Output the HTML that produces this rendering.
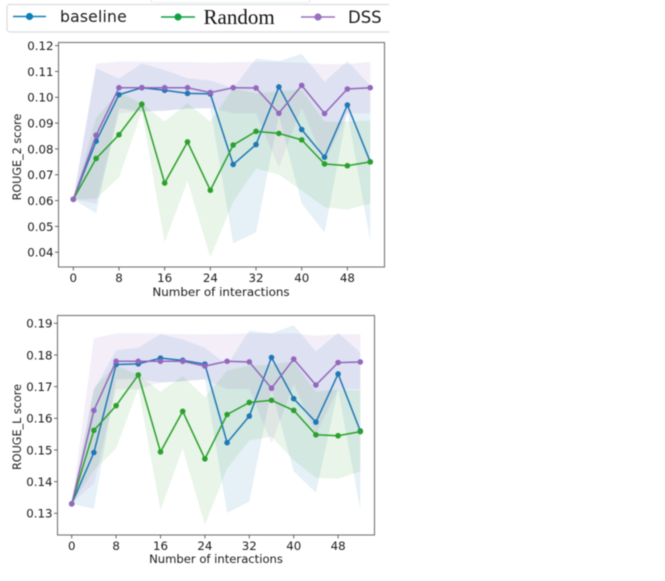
<!DOCTYPE html>
<html>
<head>
<meta charset="utf-8">
<title>ROUGE scores vs interactions</title>
<style>
html,body{margin:0;padding:0;background:#fff;}
#stage{position:relative;width:665px;height:581px;overflow:hidden;background:#fff;}
svg{position:absolute;left:0;top:0;filter:blur(0.4px);}
text{font-family:"DejaVu Sans",sans-serif;fill:#1a1a1a;}
</style>
</head>
<body>
<div id="stage">
<svg id="plot" width="665" height="581" viewBox="0 0 665 581" xmlns="http://www.w3.org/2000/svg">
  <g>
    <rect x="151" y="0" width="1" height="2" fill="#bfe3f2"/>
    <rect x="309" y="0" width="1" height="2" fill="#bfe3f2"/>
    <rect x="153" y="2" width="155" height="1" fill="#e6f3f8"/>
    <path d="M389 4.5H10a3 3 0 0 0-3 3V29a3 3 0 0 0 3 3H389" fill="#fff" stroke="#dcdcdc" stroke-width="1.2"/>
    <g>
      <line x1="13" y1="16.5" x2="46" y2="16.5" stroke="#0f7fb8" stroke-width="1.6"/>
      <circle cx="29.5" cy="16.5" r="3.6" fill="#0f7fb8"/>
      <text x="60" y="22" font-size="15.6" style="letter-spacing:.2px">baseline</text>
    </g>
    <g>
      <line x1="161" y1="17" x2="195" y2="17" stroke="#0fa044" stroke-width="1.6"/>
      <circle cx="178" cy="17" r="3.6" fill="#0fa044"/>
      <text x="203.5" y="24" font-size="21" style="font-family:'Liberation Serif',serif;fill:#111">Random</text>
    </g>
    <g>
      <line x1="301" y1="17" x2="335" y2="17" stroke="#9a6fbf" stroke-width="1.6"/>
      <circle cx="318" cy="17" r="3.6" fill="#9a6fbf"/>
      <text x="348" y="23" font-size="16.5">DSS</text>
    </g>
  </g>
</svg>
</div>
<script>
const interactions = [0,4,8,12,16,20,24,28,32,36,40,44,48,52];
const xTickLabels = [0,8,16,24,32,40,48];

const rouge2Ticks = [0.04,0.05,0.06,0.07,0.08,0.09,0.10,0.11,0.12];
const rouge2BaselineMean = [.0605,.083,.101,.1037,.1027,.1015,.1013,.074,.0817,.104,.0875,.0768,.097,.075];
const rouge2BaselineUpper = [.0605,.1112,.1072,.113,.1105,.1073,.1065,.1035,.115,.114,.1168,.106,.114,.1045];
const rouge2BaselineLower = [.0605,.0551,.0957,.0945,.0948,.0957,.0958,.0435,.0477,.0929,.0588,.0476,.0945,.0445];
const rouge2RandomMean = [.0605,.0763,.0855,.0973,.0668,.0827,.064,.0815,.0868,.086,.0835,.0742,.0735,.075];
const rouge2RandomUpper = [.0605,.092,.102,.0975,.0906,.0977,.0905,.1035,.1015,.1023,.103,.0905,.0905,.091];
const rouge2RandomLower = [.0605,.0607,.069,.0945,.0438,.0677,.038,.0596,.0724,.0701,.0639,.0574,.0565,.0589];
const rouge2DssMean = [.0605,.0853,.1037,.1037,.1037,.1037,.1018,.1037,.1036,.0938,.1046,.0937,.1032,.1037];
const rouge2DssUpper = [.0605,.113,.1138,.1138,.1136,.1136,.1134,.1136,.1137,.1137,.1133,.1128,.1129,.1137];
const rouge2DssLower = [.0605,.0588,.0938,.0947,.0948,.0955,.0958,.0938,.0938,.0729,.096,.0746,.0938,.0938];

const rougeLTicks = [0.13,0.14,0.15,0.16,0.17,0.18,0.19];
const rougeLBaselineMean = [.133,.1492,.177,.1772,.179,.1783,.1771,.1523,.1607,.1792,.1662,.1588,.174,.156];
const rougeLBaselineUpper = [.133,.1688,.1815,.1823,.1866,.1849,.1823,.1768,.1877,.1868,.1894,.1811,.187,.1807];
const rougeLBaselineLower = [.133,.1315,.1723,.1725,.1713,.1717,.1723,.1302,.1337,.1691,.1433,.1365,.1692,.131];
const rougeLRandomMean = [.133,.1562,.164,.1737,.1494,.1622,.1472,.1612,.165,.1657,.1625,.1548,.1545,.1558];
const rougeLRandomUpper = [.133,.1697,.1767,.1737,.1684,.1733,.1667,.175,.1767,.1769,.178,.1684,.1691,.1687];
const rougeLRandomLower = [.133,.1436,.1505,.1695,.131,.1505,.1263,.1442,.153,.1542,.1468,.1412,.1409,.1433];
const rougeLDssMean = [.133,.1625,.178,.178,.178,.178,.1765,.178,.1778,.1695,.1787,.1705,.1776,.1778];
const rougeLDssUpper = [.133,.1853,.1868,.1868,.1867,.1866,.1865,.1866,.1868,.1868,.1868,.1861,.1865,.1866];
const rougeLDssLower = [.133,.1395,.1692,.1692,.1713,.1718,.1723,.1692,.1692,.1521,.1708,.1549,.1692,.1692];

const SVG_NS = 'http://www.w3.org/2000/svg';
const plot = document.getElementById('plot');
const BLUE = '#1f77b4', GREEN = '#2ca02c', PURPLE = '#9467bd';

function node(parent, tag, attrs, txt) {
  const n = document.createElementNS(SVG_NS, tag);
  for (const k in attrs) n.setAttribute(k, attrs[k]);
  if (txt !== undefined) n.textContent = txt;
  parent.appendChild(n);
  return n;
}

function drawChart(cfg) {
  const box = cfg.box;
  const xScale = function (v) { return cfg.x0 + (v - 0) * cfg.xPerUnit; };
  const yScale = function (v) { return cfg.yRef + (cfg.vRef - v) * cfg.yPerUnit; };

  const g = node(plot, 'g', {});
  
  

  cfg.series.forEach(function (s) {
    const top = interactions.map(function (x, i) { return xScale(x).toFixed(2) + ',' + yScale(s.upper[i]).toFixed(2); });
    const bottom = interactions.map(function (x, i) { return xScale(x).toFixed(2) + ',' + yScale(s.lower[i]).toFixed(2); }).reverse();
    const band = node(g, 'polygon', { points: top.concat(bottom).join(' '), fill: s.color, 'fill-opacity': 0.11 });
    
    
  });

  cfg.series.forEach(function (s) {
    const pts = interactions.map(function (x, i) { return xScale(x).toFixed(2) + ',' + yScale(s.mean[i]).toFixed(2); });
    const line = node(g, 'polyline', { points: pts.join(' '), fill: 'none', stroke: s.color, 'stroke-width': 1.5 });
    
    
    interactions.forEach(function (x, i) {
      const dot = node(g, 'circle', { cx: xScale(x).toFixed(2), cy: yScale(s.mean[i]).toFixed(2), r: 2.8, fill: s.color });
      
      
    });
  });

  const frame = node(g, 'rect', { x: box.l, y: box.t, width: box.r - box.l, height: box.b - box.t, fill: 'none', stroke: '#757575', 'stroke-width': 1.1 });
  
  

  xTickLabels.forEach(function (v) {
    const px = xScale(v);
    const tick = node(g, 'line', { x1: px, x2: px, y1: box.b, y2: box.b + 3.5, stroke: '#555', 'stroke-width': 0.9 });
    
    
    const lab = node(g, 'text', { x: px, y: box.b + cfg.xLabelDy, 'font-size': cfg.tickFont, 'text-anchor': 'middle' }, String(v));
    
    
  });

  cfg.ticks.forEach(function (v) {
    const py = yScale(v);
    const tick = node(g, 'line', { x1: box.l - 3.5, x2: box.l, y1: py, y2: py, stroke: '#555', 'stroke-width': 0.9 });
    
    
    const lab = node(g, 'text', { x: box.l - 5, y: py + 4.4, 'font-size': cfg.tickFont, 'text-anchor': 'end' }, v.toFixed(2));
    
    
  });

  const xt = node(g, 'text', { x: cfg.xTitleX, y: cfg.xTitleY, 'font-size': cfg.xTitleFont, 'text-anchor': 'middle' }, 'Number of interactions');
  
  

  const yt = node(g, 'text', { x: 0, y: 0, 'font-size': 11.2, 'text-anchor': 'middle', transform: 'translate(' + cfg.yTitleX + ',' + cfg.yTitleY + ') rotate(-90)' }, cfg.yTitle);
  
  
}

drawChart({
  name: 'rouge-2-chart',
  box: { l: 58.5, r: 384.5, t: 42.5, b: 267 },
  x0: 73.3, xPerUnit: 5.71,
  vRef: 0.12, yRef: 45.6, yPerUnit: 2583,
  ticks: rouge2Ticks,
  tickFont: 11.8, xLabelDy: 15,
  xTitleX: 221, xTitleY: 296, xTitleFont: 11.9,
  yTitleX: 21, yTitleY: 157,
  yTitle: 'ROUGE_2 score',
  series: [
    { key: 'baseline', color: BLUE, mean: rouge2BaselineMean, upper: rouge2BaselineUpper, lower: rouge2BaselineLower },
    { key: 'random', color: GREEN, mean: rouge2RandomMean, upper: rouge2RandomUpper, lower: rouge2RandomLower },
    { key: 'dss', color: PURPLE, mean: rouge2DssMean, upper: rouge2DssUpper, lower: rouge2DssLower }
  ]
});

drawChart({
  name: 'rouge-l-chart',
  box: { l: 57.5, r: 374.5, t: 315.5, b: 535 },
  x0: 71.7, xPerUnit: 5.55,
  vRef: 0.19, yRef: 323.3, yPerUnit: 3167,
  ticks: rougeLTicks,
  tickFont: 11.8, xLabelDy: 15,
  xTitleX: 216, xTitleY: 563, xTitleFont: 11.6,
  yTitleX: 21, yTitleY: 427,
  yTitle: 'ROUGE_L score',
  series: [
    { key: 'baseline', color: BLUE, mean: rougeLBaselineMean, upper: rougeLBaselineUpper, lower: rougeLBaselineLower },
    { key: 'random', color: GREEN, mean: rougeLRandomMean, upper: rougeLRandomUpper, lower: rougeLRandomLower },
    { key: 'dss', color: PURPLE, mean: rougeLDssMean, upper: rougeLDssUpper, lower: rougeLDssLower }
  ]
});

const crop = node(plot, 'rect', { x: 0, y: 564, width: 665, height: 17, fill: '#fff' });


</script>
</body>
</html>
